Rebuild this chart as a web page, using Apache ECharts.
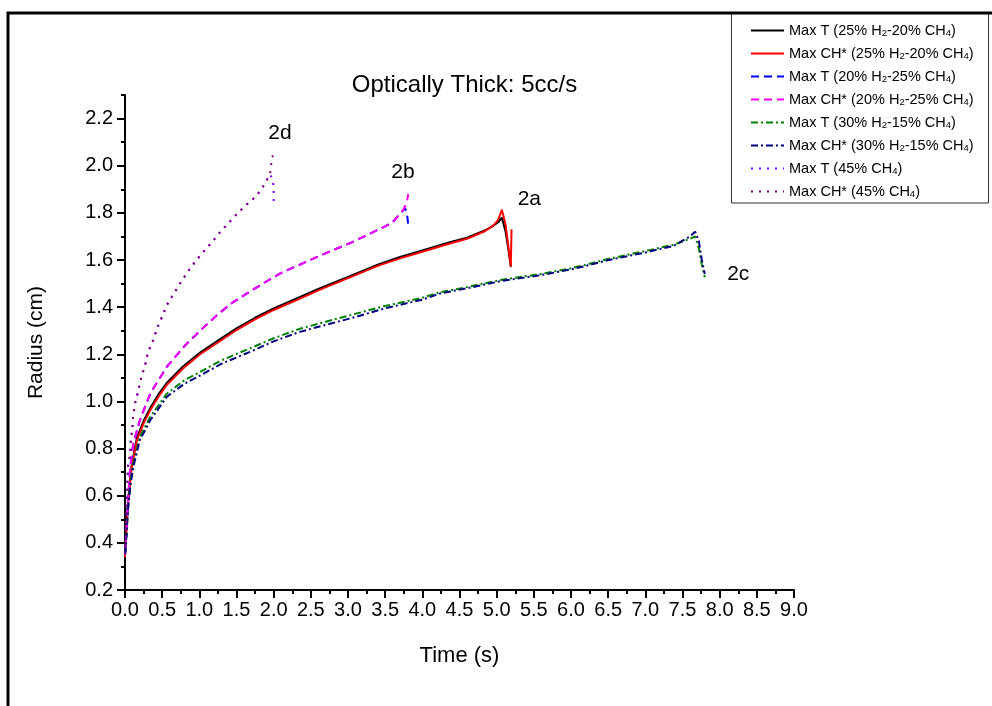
<!DOCTYPE html>
<html>
<head>
<meta charset="utf-8">
<script src="https://cdn.jsdelivr.net/npm/echarts@6/dist/echarts.min.js"></script>
<style>html,body{margin:0;padding:0;background:#fff}#c{width:992px;height:706px}</style>
</head>
<body>
<div id="c"></div>
<script>
// ---- data ----
var xTicks = [0,0.5,1,1.5,2,2.5,3,3.5,4,4.5,5,5.5,6,6.5,7,7.5,8,8.5,9];
var yTicks = [0.2,0.4,0.6,0.8,1.0,1.2,1.4,1.6,1.8,2.0,2.2];

// 25% H2 - 20% CH4
var tA   = [0,0.01,0.02,0.045,0.09,0.16,0.25,0.34,0.45,0.56,0.78,1.01,1.25,1.5,1.75,2.0,2.31,2.6,3.0,3.4,3.7,4.0,4.37,4.6,4.84,4.95,5.02,5.07,5.12,5.16,5.19,5.2];
var rA_T = [0.35,0.41,0.47,0.59,0.73,0.845,0.917,0.972,1.03,1.078,1.148,1.207,1.258,1.31,1.355,1.395,1.437,1.477,1.528,1.58,1.613,1.64,1.675,1.695,1.725,1.745,1.76,1.78,1.72,1.64,1.573,1.573];
var rA_C = [0.34,0.40,0.46,0.58,0.72,0.835,0.907,0.963,1.02,1.069,1.14,1.2,1.25,1.303,1.348,1.388,1.43,1.471,1.523,1.575,1.607,1.635,1.67,1.69,1.722,1.745,1.77,1.813,1.75,1.65,1.573,1.73];

// 20% H2 - 25% CH4
var tB   = [0,0.02,0.04,0.07,0.11,0.2,0.34,0.56,0.8,1.01,1.25,1.45,1.7,1.91,2.1,2.35,2.6,2.8,3.03,3.25,3.45,3.6,3.74,3.77,3.8,3.81];
var rB_T = [0.35,0.45,0.58,0.72,0.82,0.92,1.034,1.146,1.235,1.3,1.37,1.42,1.47,1.51,1.545,1.58,1.615,1.642,1.672,1.705,1.735,1.76,1.81,1.82,1.78,1.75];
var rB_C = [0.35,0.45,0.58,0.72,0.82,0.92,1.034,1.146,1.235,1.3,1.37,1.42,1.47,1.51,1.545,1.58,1.615,1.642,1.672,1.705,1.735,1.76,1.81,1.83,1.86,1.88];

// 30% H2 - 15% CH4
var tC   = [0,0.02,0.04,0.07,0.11,0.2,0.34,0.56,0.8,1.01,1.3,1.68,2.0,2.35,2.7,3.03,3.5,4.0,4.24,4.6,5.05,5.58,6.0,6.2,6.48,7.0,7.38,7.6,7.67,7.72,7.76,7.8];
var rC_T = [0.35,0.44,0.55,0.65,0.735,0.85,0.935,1.032,1.09,1.125,1.175,1.225,1.268,1.308,1.338,1.366,1.405,1.44,1.463,1.485,1.515,1.54,1.565,1.58,1.603,1.638,1.665,1.69,1.70,1.65,1.58,1.527];
var rC_C = [0.35,0.43,0.54,0.636,0.72,0.836,0.92,1.019,1.075,1.11,1.16,1.21,1.255,1.295,1.325,1.352,1.395,1.432,1.458,1.48,1.51,1.535,1.56,1.575,1.598,1.632,1.66,1.7,1.72,1.68,1.6,1.54];

// 45% CH4
var tD   = [0,0.005,0.015,0.025,0.04,0.07,0.08,0.1,0.11,0.14,0.18,0.22,0.27,0.31,0.38,0.43,0.49,0.56,0.65,0.74,0.83,0.94,1.05,1.17,1.28,1.39,1.51,1.64,1.77,1.86,1.95];
var rD   = [0.35,0.40,0.50,0.60,0.72,0.78,0.836,0.89,0.94,0.998,1.047,1.104,1.153,1.21,1.26,1.31,1.352,1.407,1.454,1.50,1.544,1.591,1.633,1.676,1.718,1.756,1.797,1.836,1.872,1.913,1.963];
var tD_Tend = [1.99,2.0,2.0];
var rD_Tend = [1.94,1.89,1.83];
var tD_Cend = [1.97,2.0];
var rD_Cend = [2.015,2.06];

// annotations
var annoText = ['2a','2b','2c','2d'];
var annoT    = [5.44,3.74,8.25,2.085];
var annoR    = [1.857,1.971,1.539,2.14];

var names = [
  'Max T (25% H2-20% CH4)',
  'Max CH* (25% H2-20% CH4)',
  'Max T (20% H2-25% CH4)',
  'Max CH* (20% H2-25% CH4)',
  'Max T (30% H2-15% CH4)',
  'Max CH* (30% H2-15% CH4)',
  'Max T (45% CH4)',
  'Max CH* (45% CH4)'
];
var colors = ['#000000','#ff0000','#0000ff','#ff00ff','#008000','#000080','#8000ff','#800080'];
var dashes = ['solid','solid',[8,5],[8,5],[7,3,2,3],[7,3,2,3],[2,6],[2,6]];

function zip(t, r){ var o=[]; for(var i=0;i<t.length;i++) o.push([t[i], r[i]]); return o; }

var seriesData = [
  zip(tA, rA_T), zip(tA, rA_C),
  zip(tB, rB_T), zip(tB, rB_C),
  zip(tC, rC_T), zip(tC, rC_C),
  zip(tD.concat(tD_Tend), rD.concat(rD_Tend)),
  zip(tD.concat(tD_Cend), rD.concat(rD_Cend))
];

var FONT = 'Liberation Sans, Arial, sans-serif';
var series = [];
for (var i=0;i<names.length;i++){
  series.push({
    name: names[i], type:'line', data: seriesData[i],
    showSymbol:false, symbol:'none', smooth:false, clip:false,
    lineStyle:{color:colors[i], width:2, type:dashes[i]},
    itemStyle:{color:colors[i]}, z: 2+i
  });
}
series.push({
  type:'scatter', symbolSize:0, silent:true,
  itemStyle:{opacity:1, color:'#000'},
  data: annoText.map(function(s,i){ return {value:[annoT[i], annoR[i]], label:{formatter:s}}; }),
  label:{show:true, position:'inside', color:'#000', fontSize:21, fontFamily:FONT},
  z: 20
});

var chart = echarts.init(document.getElementById('c'), null, {renderer:'canvas'});
chart.setOption({
  animation:false,
  backgroundColor:'#fff',
  title:{text:'Optically Thick: 5cc/s', left:459.5, top:68, textAlign:'center',
    textStyle:{fontFamily:FONT, fontSize:24, fontWeight:'normal', color:'#000'}},
  grid:{left:125, top:95, width:669, height:495},
  legend:{
    data:names, orient:'vertical', left:750, top:19, itemWidth:33, itemHeight:14, itemGap:4,
    padding:0,
    itemStyle:{opacity:0},
    formatter:function(n){ return n.replace(/H(\d)/g,'H{s|$1}'); },
    textStyle:{fontFamily:FONT, fontSize:14.5, color:'#000',
      rich:{s:{fontFamily:FONT, fontSize:9.5, verticalAlign:'bottom', lineHeight:10, padding:[9,0,0,0]}}}
  },
  xAxis:{
    type:'value', min:0, max:9, interval:0.5,
    axisLine:{show:true, lineStyle:{color:'#000', width:2}},
    axisTick:{show:true, inside:false, length:8, lineStyle:{color:'#000', width:2}},
    minorTick:{show:true, splitNumber:2, length:4, lineStyle:{color:'#000', width:2}},
    splitLine:{show:false},
    axisLabel:{fontFamily:FONT, fontSize:20, color:'#000', margin:10,
      formatter:function(v){ return v.toFixed(1); }},
    name:'Time (s)', nameLocation:'middle', nameGap:55,
    nameTextStyle:{fontFamily:FONT, fontSize:22, color:'#000'}
  },
  yAxis:[{
    type:'value', min:0.2, max:2.3, interval:0.2,
    axisLine:{show:true, lineStyle:{color:'#000', width:2}},
    axisTick:{show:true, inside:false, length:8, customValues:yTicks, lineStyle:{color:'#000', width:2}},
    splitLine:{show:false},
    axisLabel:{fontFamily:FONT, fontSize:20, color:'#000', margin:12, customValues:yTicks,
      formatter:function(v){ return v.toFixed(1); }},
    name:'Radius (cm)', nameLocation:'middle', nameGap:78,
    nameTextStyle:{fontFamily:FONT, fontSize:21, color:'#000'}
  },{
    type:'value', min:0.2, max:2.3, interval:0.1, position:'left',
    axisLine:{show:false},
    axisTick:{show:true, inside:false, length:4, lineStyle:{color:'#000', width:2}},
    axisLabel:{show:false}, splitLine:{show:false}
  }],
  series: series,
  graphic:[
    {type:'polyline', shape:{points:[[8,706],[8,13],[992,13]]}, style:{stroke:'#000', lineWidth:3, fill:null}, z:100},
    {type:'rect', shape:{x:731.5, y:13, width:257, height:190}, style:{stroke:'#333', lineWidth:1, fill:null}, z:99}
  ]
});
</script>
</body>
</html>
